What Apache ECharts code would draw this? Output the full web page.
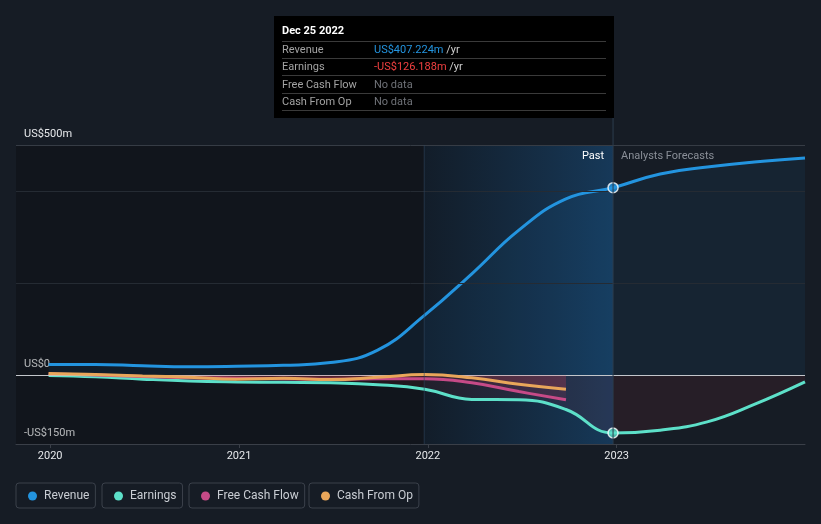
<!DOCTYPE html>
<html><head><meta charset="utf-8">
<script src="https://cdn.jsdelivr.net/npm/echarts@6/dist/echarts.min.js"></script>
<style>html,body{margin:0;padding:0;background:#161c25;}#c{width:821px;height:524px;}</style>
</head><body><div id="c"></div>
<script>
// ---- data ----
const pastDates = ['2019-12-29','2020-03-29','2020-06-28','2020-09-27','2020-12-27','2021-03-28','2021-06-27','2021-09-26','2021-12-26','2022-03-27','2022-06-26','2022-09-25','2022-12-25'];
const revenuePast = [23, 23, 20, 18, 19, 21, 27, 54, 130, 220, 315, 383, 407.224];
const earningsPast = [-1, -4, -9, -13, -15, -16, -17, -21, -31, -53, -54, -75, -126.188];
const cashDates = ['2019-12-29','2020-03-29','2020-06-28','2020-09-27','2020-12-27','2021-03-28','2021-06-27','2021-09-26','2021-12-26','2022-03-27','2022-06-26','2022-09-25'];
const fcfPast = [2, 0, -3, -6, -7, -8, -9, -8, -8, -17, -36, -54];
const cfoPast = [3, 1, -2, -5, -9, -7, -10, -5, 1, -6, -20, -31];
const forecastDates = ['2023-03-26','2023-06-25','2023-09-24','2023-12-31'];
const revenueForecast = [437, 452, 463, 472];
const earningsForecast = [-120, -102, -64, -15];
const seriesNames = ['Revenue', 'Earnings', 'Free Cash Flow', 'Cash From Op'];
const seriesColors = ['#2394df', '#5de0c9', '#c64a87', '#e9a65a'];
const yLabelValues = [-150, 0, 500];
const gridValues = [500, 400, 200];
const xYears = [2020, 2021, 2022, 2023];
const tooltipDate = 'Dec 25 2022';

// ---- helpers ----
// dates -> decimal years so a value axis can be used
const yr = d => {
  const t = new Date(d + 'T00:00:00Z');
  const y = t.getUTCFullYear();
  const s = Date.UTC(y, 0, 1), e = Date.UTC(y + 1, 0, 1);
  return y + (t.getTime() - s) / (e - s);
};
const pairs = (dates, vals) => dates.map((d, i) => [yr(d), vals[i]]);
const lastDate = pastDates[pastDates.length - 1];
const bandStart = '2021-12-25';
const xMin = yr('2019-10-27'), xMax = yr('2023-12-31');
const revenueAll = pairs(pastDates, revenuePast).concat(pairs(forecastDates, revenueForecast));
const earningsAll = pairs(pastDates, earningsPast).concat(pairs(forecastDates, earningsForecast));
const fmtM = v => (v < 0 ? '-' : '') + 'US$' + Math.abs(v).toFixed(3) + 'm';
const FONT = 'Roboto, "Noto Sans", sans-serif';

const chart = echarts.init(document.getElementById('c'), null, {renderer: 'canvas'});

const lineSeries = (name, data, color, area, z) => ({
  name, type: 'line', data, smooth: 0.45, symbol: 'none', z,
  lineStyle: {color, width: 3}, itemStyle: {color},
  areaStyle: {color: area}, emphasis: {disabled: true}
});

const option = {
  backgroundColor: '#161c25',
  animation: false,
  textStyle: {fontFamily: FONT},
  grid: {left: 16, right: 16, top: 145, bottom: 80},
  xAxis: {
    type: 'value', min: xMin, max: xMax,
    axisLine: {onZero: false, lineStyle: {color: '#3a3f48', width: 1}},
    axisTick: {show: true, length: 4, lineStyle: {color: '#3a3f48'}, customValues: xYears},
    axisLabel: {color: '#e6e8eb', fontSize: 11, margin: 7, fontFamily: FONT,
      customValues: xYears, formatter: v => String(Math.round(v))},
    splitLine: {show: false}
  },
  yAxis: {
    type: 'value', min: -150, max: 500,
    axisLine: {show: false}, axisTick: {show: false}, splitLine: {show: false},
    axisLabel: {inside: true, margin: 8, color: '#e6e8eb', fontSize: 11, fontFamily: FONT,
      verticalAlign: 'bottom', padding: [0, 0, 5, 0],
      customValues: yLabelValues,
      formatter: v => v === 0 ? 'US$0' : (v < 0 ? '-US$' + (-v) + 'm' : 'US$' + v + 'm')}
  },
  legend: seriesNames.map((n, i) => ({
    data: [n], left: [16, 102, 189, 309][i], top: 483,
    icon: 'circle', itemWidth: 9, itemHeight: 9,
    borderColor: '#3b414b', borderWidth: 1, borderRadius: 3,
    padding: [7, 6, 6, 12],
    textStyle: {color: '#c9cdd3', fontSize: 12, fontFamily: FONT, padding: [0, 0, 0, 2]}
  })),
  series: [
    {
      type: 'line', data: [], z: 1, silent: true,
      markArea: {silent: true, data: [
        [{xAxis: xMin, itemStyle: {color: 'rgba(0,0,0,0.22)'}}, {xAxis: yr(lastDate)}],
        [{xAxis: yr(bandStart), itemStyle: {
          color: new echarts.graphic.LinearGradient(0, 0, 1, 0, [
            {offset: 0, color: 'rgba(30,100,160,0.10)'},
            {offset: 1, color: 'rgba(30,110,180,0.40)'}])}}, {xAxis: yr(lastDate)}]
      ]},
      markLine: {silent: true, symbol: 'none', label: {show: false}, data:
        gridValues.map((v, i) => ({yAxis: v, lineStyle: {color: i === 0 ? '#363c45' : '#252b33', width: 1, type: 'solid'}}))
        .concat([{yAxis: 0, lineStyle: {color: '#c3c6cb', width: 1, type: 'solid'}}])
      }
    },
    lineSeries('Revenue', revenueAll, seriesColors[0], 'rgba(35,148,223,0.10)', 3),
    lineSeries('Earnings', earningsAll, seriesColors[1], 'rgba(200,50,70,0.13)', 3),
    lineSeries('Free Cash Flow', pairs(cashDates, fcfPast), seriesColors[2], 'rgba(200,50,90,0.20)', 4),
    lineSeries('Cash From Op', pairs(cashDates, cfoPast), seriesColors[3], 'rgba(220,70,80,0.22)', 5),
    {
      type: 'scatter', z: 10, silent: true, symbolSize: 10,
      itemStyle: {borderColor: '#ffffff', borderWidth: 1.5},
      data: [
        {value: [yr(lastDate), revenuePast[revenuePast.length - 1]], itemStyle: {color: seriesColors[0]}},
        {value: [yr(lastDate), earningsPast[earningsPast.length - 1]], itemStyle: {color: seriesColors[1]}}
      ]
    }
  ]
};
chart.setOption(option);

// overlay: divider, Past/Forecast labels, tooltip box
const px = chart.convertToPixel({xAxisIndex: 0}, yr(lastDate));
const bottomY = chart.convertToPixel({yAxisIndex: 0}, -150);
const bandX = chart.convertToPixel({xAxisIndex: 0}, yr(bandStart));
const topY = chart.convertToPixel({yAxisIndex: 0}, 500);
const tipX = 274, tipY = 16, tipW = 340, tipH = 102;
const rows = [
  ['Revenue', fmtM(revenuePast[revenuePast.length - 1]), '#2394df', true],
  ['Earnings', fmtM(earningsPast[earningsPast.length - 1]), '#f04040', true],
  ['Free Cash Flow', 'No data', '#6f7278', false],
  ['Cash From Op', 'No data', '#6f7278', false]
];
const g = [
  {type: 'line', z: 50, silent: true, shape: {x1: px, y1: tipY + tipH, x2: px, y2: bottomY}, style: {stroke: '#2c3c4e', lineWidth: 1}},
  {type: 'line', z: 50, silent: true, shape: {x1: bandX, y1: topY, x2: bandX, y2: bottomY}, style: {stroke: 'rgba(45,70,95,0.6)', lineWidth: 1}},
  {type: 'text', z: 50, silent: true, x: px - 9, y: 156, style: {text: 'Past', fill: '#ffffff', font: '11px ' + FONT, align: 'right', verticalAlign: 'middle'}},
  {type: 'text', z: 50, silent: true, x: px + 8, y: 156, style: {text: 'Analysts Forecasts', fill: '#8a8f98', font: '11px ' + FONT, align: 'left', verticalAlign: 'middle'}},
  {type: 'rect', z: 60, silent: true, shape: {x: tipX, y: tipY, width: tipW, height: tipH}, style: {fill: '#000000'}},
  {type: 'text', z: 61, silent: true, x: tipX + 8, y: 31, style: {text: tooltipDate, fill: '#ffffff', font: 'bold 11px ' + FONT, verticalAlign: 'middle'}}
];
const sepY = [41.5, 58.5, 75.5, 93.5, 110.5];
sepY.forEach(y => g.push({type: 'line', z: 61, silent: true, shape: {x1: tipX + 8, y1: y, x2: tipX + 332, y2: y}, style: {stroke: '#3a3a3a', lineWidth: 1}}));
const rowY = [50, 67, 85, 102];
rows.forEach((r, i) => {
  g.push({type: 'text', z: 61, silent: true, x: tipX + 8, y: rowY[i], style: {text: r[0], fill: '#a3a3a3', font: '11px ' + FONT, verticalAlign: 'middle'}});
  g.push({type: 'text', z: 61, silent: true, x: tipX + 100, y: rowY[i], style: {
    text: r[3] ? '{v|' + r[1] + '} {u|/yr}' : '{v|' + r[1] + '}',
    verticalAlign: 'middle', font: '11px ' + FONT,
    rich: {v: {fill: r[2], font: '11px ' + FONT}, u: {fill: '#d0d0d0', font: '11px ' + FONT}}
  }});
});
chart.setOption({graphic: g});
</script></body></html>
